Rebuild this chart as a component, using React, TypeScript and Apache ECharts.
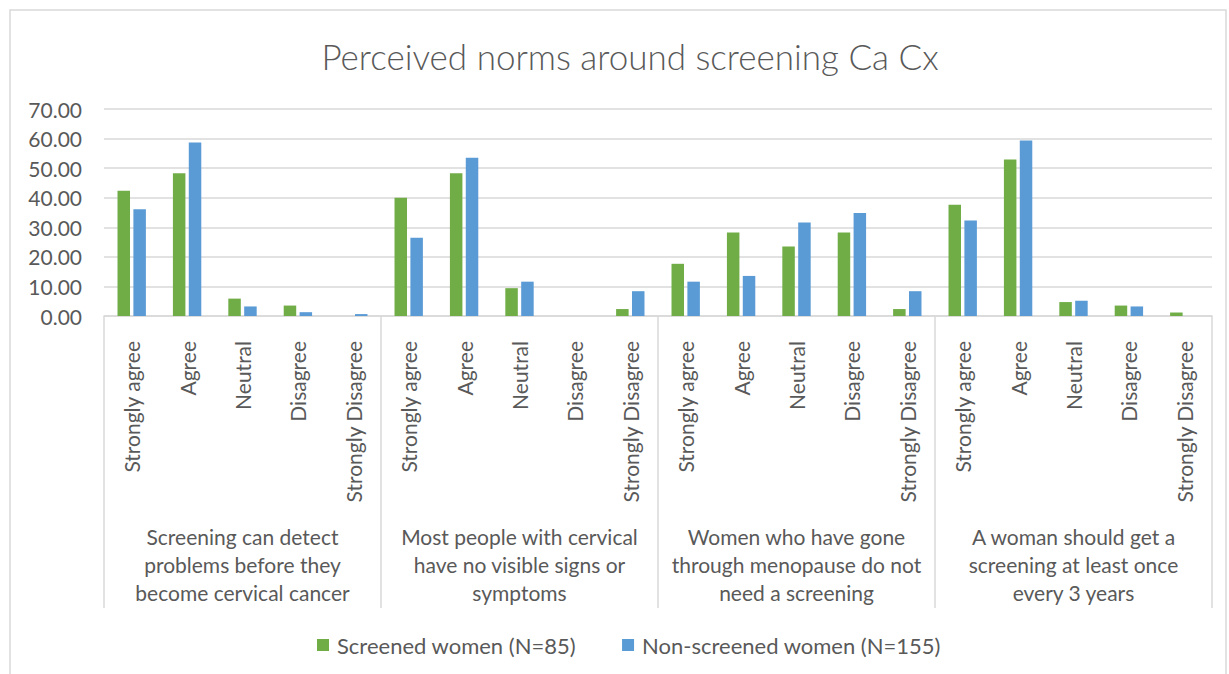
import React, { useEffect, useRef } from "react";
import * as echarts from "echarts";

const TITLE = "Perceived norms around screening Ca Cx";
const groups = [
  "Screening can detect\nproblems before they\nbecome cervical cancer",
  "Most people with cervical\nhave no visible signs or\nsymptoms",
  "Women who have gone\nthrough menopause do not\nneed a screening",
  "A woman should get a\nscreening at least once\nevery 3 years",
];
const responses = ["Strongly agree", "Agree", "Neutral", "Disagree", "Strongly Disagree"];
const seriesNames = ["Screened women (N=85)", "Non-screened women (N=155)"];
const screened = [
  42.35, 48.24, 5.88, 3.53, 0,
  40.0, 48.24, 9.41, 0, 2.35,
  17.65, 28.24, 23.53, 28.24, 2.35,
  37.65, 52.94, 4.71, 3.53, 1.18,
];
const nonScreened = [
  36.13, 58.71, 3.23, 1.29, 0.65,
  26.45, 53.55, 11.61, 0, 8.39,
  11.61, 13.55, 31.61, 34.84, 8.39,
  32.26, 59.35, 5.16, 3.23, 0,
];
const yMin = 0;
const yMax = 70;
const yStep = 10;

const FONT = "Lato, 'Open Sans', sans-serif";
const TEXT = "#595959";
const LINE = "#d9d9d9";

export default function App() {
  const ref = useRef<HTMLDivElement>(null);
  useEffect(() => {
    if (!ref.current) return;
    const chart = echarts.init(ref.current, undefined, { renderer: "svg" });
    const categories = groups.flatMap(() => responses);
    chart.setOption({
      animation: false,
      backgroundColor: "#ffffff",
      title: {
        text: TITLE,
        left: 625,
        textAlign: "center",
        top: 33,
        textStyle: { fontFamily: FONT, fontSize: 35, fontWeight: 300, color: TEXT },
      },
      legend: {
        left: 317,
        top: 634,
        padding: 0,
        itemWidth: 12,
        itemHeight: 12,
        itemGap: 46,
        icon: "rect",
        textStyle: { fontFamily: FONT, fontSize: 22, color: TEXT, padding: [0, 0, 0, 3] },
        data: seriesNames,
      },
      graphic: [
        {
          type: "rect",
          shape: { x: 10, y: 10, width: 1216, height: 700 },
          style: { fill: "none", stroke: LINE, lineWidth: 1.5 },
          silent: true,
        },
      ],
      grid: { left: 104, right: 17, top: 109, bottom: 358, containLabel: false },
      xAxis: [
        {
          type: "category",
          data: categories,
          position: "bottom",
          axisLine: { show: true, lineStyle: { color: LINE, width: 1.5 } },
          axisTick: { show: false },
          axisLabel: {
            interval: 0,
            rotate: 90,
            margin: 25,
            fontFamily: FONT,
            fontSize: 21,
            color: TEXT,
          },
        },
        {
          type: "category",
          data: groups,
          position: "bottom",
          axisLine: { show: false },
          axisTick: { show: true, length: 292, interval: 0, lineStyle: { color: LINE, width: 1.5 } },
          axisLabel: {
            interval: 0,
            margin: 206,
            fontFamily: FONT,
            fontSize: 21,
            lineHeight: 28,
            color: TEXT,
            align: "center",
          },
        },
      ],
      yAxis: {
        type: "value",
        min: yMin,
        max: yMax,
        interval: yStep,
        axisLine: { show: false },
        axisTick: { show: false },
        splitLine: { lineStyle: { color: LINE, width: 1.5 } },
        axisLabel: {
          margin: 22,
          fontFamily: FONT,
          fontSize: 21,
          color: TEXT,
          formatter: (v: number) => v.toFixed(2),
        },
      },
      series: [
        {
          name: seriesNames[0],
          type: "bar",
          xAxisIndex: 0,
          data: screened,
          barWidth: 12.5,
          barGap: "27%",
          itemStyle: { color: "#70ad47" },
        },
        {
          name: seriesNames[1],
          type: "bar",
          xAxisIndex: 0,
          data: nonScreened,
          barWidth: 12.5,
          barGap: "27%",
          itemStyle: { color: "#5b9bd5" },
        },
      ],
    });
    return () => chart.dispose();
  }, []);
  return (
    <div
      ref={ref}
      style={{ position: "fixed", left: 0, top: 0, width: 1229, height: 674, background: "#fff" }}
    />
  );
}
